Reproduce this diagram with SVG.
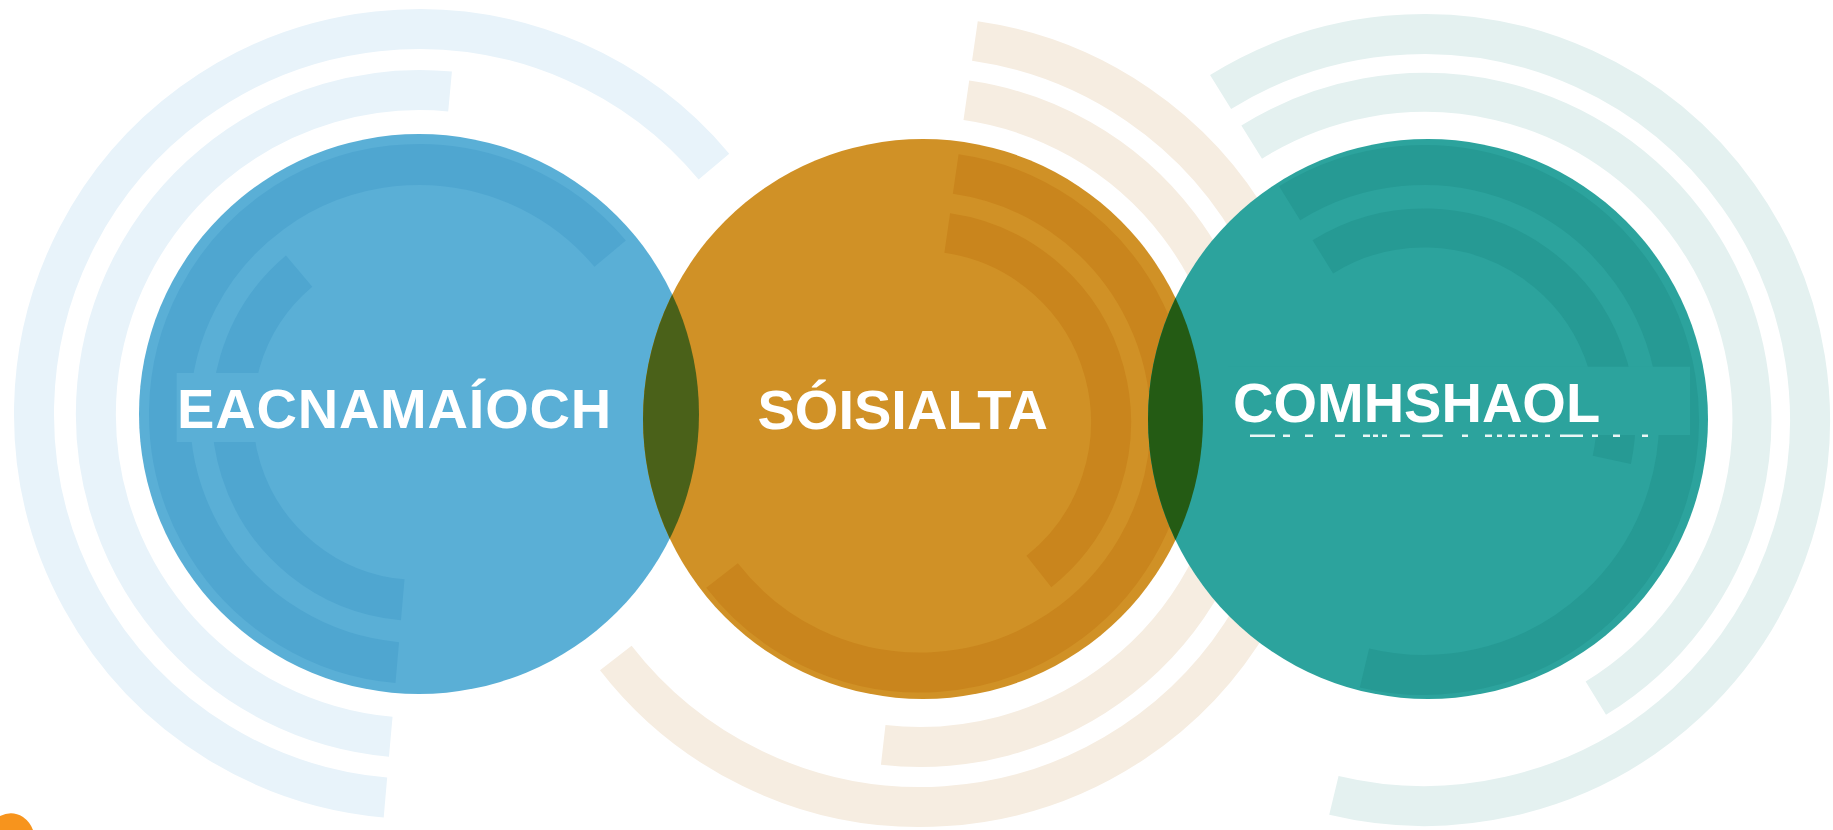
<svg xmlns="http://www.w3.org/2000/svg" width="1833" height="830" viewBox="0 0 1833 830">
<style>
.ring{fill:none;stroke-linecap:butt}
.rb{stroke:#e8f3fa}
.ro{stroke:#f6ede1}
.rt{stroke:#e4f1f0}
.bb{stroke:#4fa6d0}
.bo{stroke:#c9851d}
.bt{stroke:#269a94}
.lbl{font-family:"Liberation Sans",Arial,sans-serif;font-weight:bold;font-size:56px;fill:#ffffff}
.dash{fill:#ffffff;opacity:0.9}
</style>
<defs>
<clipPath id="clipBlue"><circle cx="419" cy="414" r="280"/></clipPath>
<clipPath id="clipOrange"><circle cx="923" cy="419" r="280"/></clipPath>
</defs>
<rect width="1833" height="830" fill="#ffffff"/>
<g id="rings">
<path class="ring rb" stroke-width="40" d="M385.44,797.53 A385,385 0 1 1 713.93,166.53"/>
<path class="ring rb" stroke-width="40" d="M390.76,736.77 A324,324 0 1 1 450.06,91.49"/>
<path class="ring ro" stroke-width="40" d="M974.91,40.93 A385,385 0 1 1 615.79,657.97"/>
<path class="ring ro" stroke-width="40" d="M966.35,100.32 A325,325 0 0 1 883.21,744.91"/>
<path class="ring rt" stroke-width="40" d="M1220.59,91.94 A386,386 0 1 1 1333.89,795.33"/>
<path class="ring rt" stroke-width="39" d="M1251.68,142.09 A327,327 0 1 1 1595.83,698.21"/>
</g>
<g id="node-eacnamaioch">
<circle cx="419" cy="414" r="280" fill="#5aafd6"/>
<path class="ring bb" stroke-width="41" d="M397.25,662.55 A249.5,249.5 0 1 1 610.13,253.62"/>
<path class="ring bb" stroke-width="41" d="M402.74,599.79 A186.5,186.5 0 0 1 299.12,271.13"/>
<rect x="176.7" y="373" width="460" height="69" fill="#5aafd6"/>
<text class="lbl" x="177" y="428" letter-spacing="0.8">EACNAMAÍOCH</text>
</g>
<g id="node-soisialta">
<circle cx="923" cy="419" r="280" fill="#d09126"/>
<path class="ring bo" stroke-width="40" d="M955.73,174.06 A250.5,250.5 0 1 1 722.06,575.53"/>
<path class="ring bo" stroke-width="40" d="M947.24,232.95 A191,191 0 0 1 1038.90,571.48"/>
<text class="lbl" x="757.5" y="429">SÓISIALTA</text>
</g>
<g id="node-comhshaol">
<circle cx="1428" cy="419" r="280" fill="#2ca39d"/>
<path class="ring bt" stroke-width="40" d="M1289.63,203.28 A255,255 0 1 1 1364.47,667.95"/>
<path class="ring bt" stroke-width="39" d="M1322.82,256.82 A192,192 0 0 1 1611.80,459.92"/>
<rect x="1228" y="366.7" width="462" height="68.3" fill="#2ca39d"/>
<text class="lbl" x="1233" y="421.5">COMHSHAOL</text>
<g class="dash">
<rect x="1250" y="434.5" width="25" height="2.5"/>
<rect x="1283" y="434.5" width="7" height="2.5"/>
<rect x="1305" y="434.5" width="8" height="2.5"/>
<rect x="1335" y="434.5" width="10" height="2.5"/>
<rect x="1363" y="434.5" width="7" height="2.5"/>
<rect x="1373" y="434.5" width="5" height="2.5"/>
<rect x="1382" y="434.5" width="5" height="2.5"/>
<rect x="1400" y="434.5" width="10" height="2.5"/>
<rect x="1422" y="434.5" width="21" height="2.5" rx="1.2"/>
<rect x="1462" y="434.5" width="6" height="2.5"/>
<rect x="1485" y="434.5" width="7" height="2.5"/>
<rect x="1497" y="434.5" width="5" height="2.5"/>
<rect x="1508" y="434.5" width="7" height="2.5"/>
<rect x="1520" y="434.5" width="7" height="2.5"/>
<rect x="1532" y="434.5" width="6" height="2.5"/>
<rect x="1545" y="434.5" width="5" height="2.5"/>
<rect x="1560" y="434.5" width="23" height="2.5"/>
<rect x="1592" y="434.5" width="6" height="2.5"/>
<rect x="1613" y="434.5" width="7" height="2.5"/>
<rect x="1642" y="434.5" width="6" height="2.5"/>
</g>
</g>
<g id="overlaps">
<circle cx="923" cy="419" r="280" fill="#4a6119" clip-path="url(#clipBlue)"/>
<circle cx="1428" cy="419" r="280" fill="#245b14" clip-path="url(#clipOrange)"/>
</g>
<g id="corner-mark">
<path d="M0,816 Q12,810 23,817 Q30,822 33,830 L0,830 Z" fill="#f7941d"/>
</g>
<g id="connectors"/>
</svg>
